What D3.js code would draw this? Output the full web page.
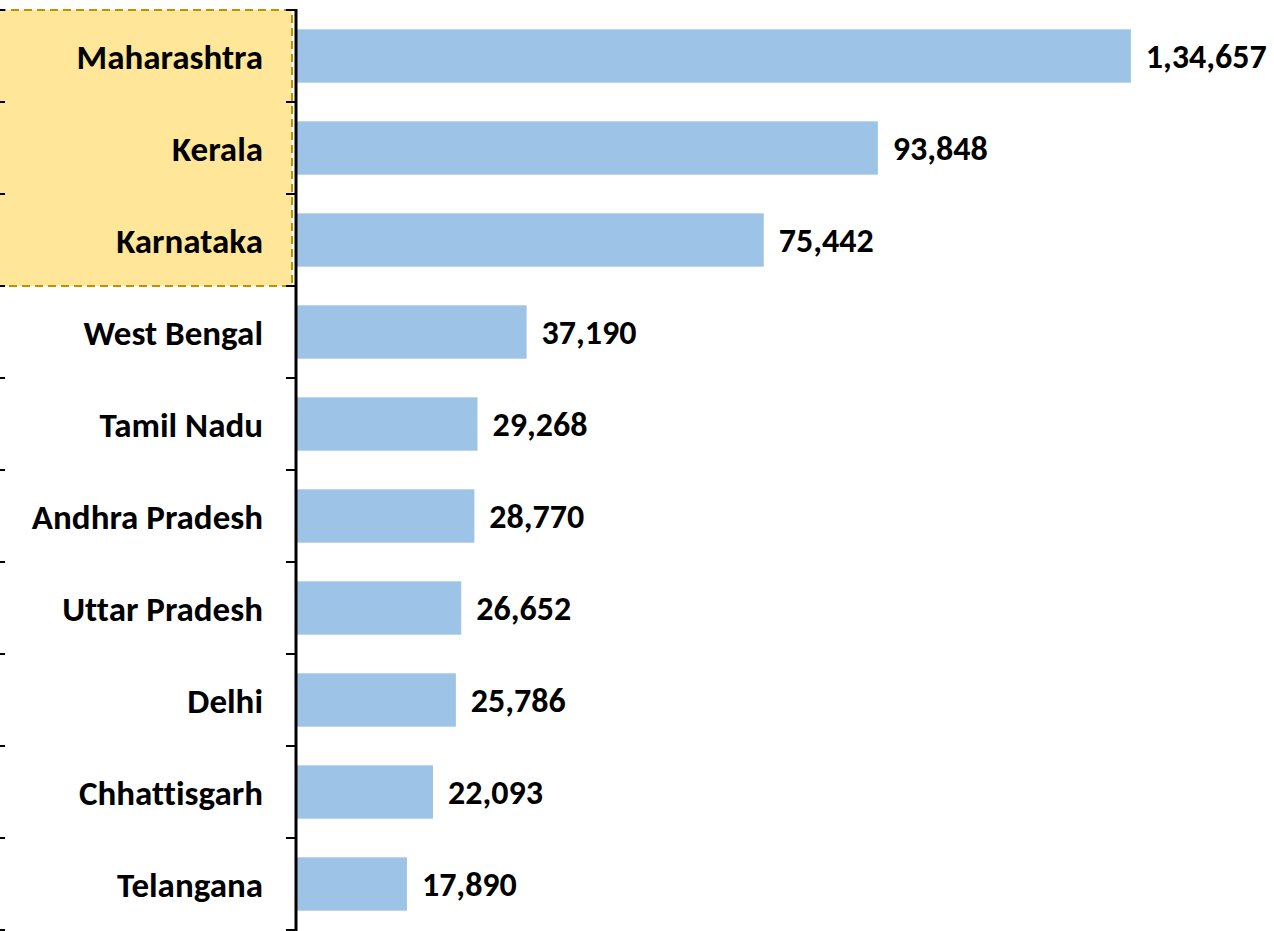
<!DOCTYPE html>
<html>
<head>
<meta charset="utf-8">
<script src="https://cdn.jsdelivr.net/npm/d3@7"></script>
<style>
  html, body { margin: 0; padding: 0; background: #fff; }
  text { font-family: Calibri, Carlito, "Open Sans", Lato, sans-serif; font-weight: 700; fill: #000; font-variant-ligatures: none; }
</style>
</head>
<body>
<div id="chart"></div>
<script>
// data
const states = ["Maharashtra", "Kerala", "Karnataka", "West Bengal", "Tamil Nadu",
  "Andhra Pradesh", "Uttar Pradesh", "Delhi", "Chhattisgarh", "Telangana"];
const cases = [134657, 93848, 75442, 37190, 29268, 28770, 26652, 25786, 22093, 17890];
const highlighted = ["Maharashtra", "Kerala", "Karnataka"];

const width = 1274, height = 931;
const axisX = 296;
const plotTop = 10, plotBottom = 930;

const svg = d3.select("#chart").append("svg")
    .attr("width", width)
    .attr("height", height);

// scales
const y = d3.scaleBand().domain(states).range([plotTop, plotBottom]).paddingInner(0.42).paddingOuter(0.21);
const x = d3.scaleLinear().domain([0, 140000]).range([axisX, axisX + 868]);
const step = y.step();

// highlight box for top three
const hi = highlighted.map(s => y(s));
const boxTop = d3.min(hi) - y.paddingOuter() * step;
const boxBottom = boxTop + highlighted.length * step;
svg.append("rect")
    .attr("x", -2)
    .attr("y", boxTop)
    .attr("width", axisX - 2)
    .attr("height", boxBottom - boxTop)
    .attr("fill", "#FFE699")
    .attr("stroke", "#BF9000")
    .attr("stroke-width", 2)
    .attr("stroke-dasharray", "8,5");

// bars
svg.selectAll(".bar")
    .data(states)
    .enter().append("rect")
    .attr("class", "bar")
    .attr("x", x(0))
    .attr("y", d => y(d))
    .attr("width", (d, i) => x(cases[i]) - x(0))
    .attr("height", y.bandwidth())
    .attr("fill", "#9DC3E6");

// axis line + band boundary ticks
const bounds = d3.range(states.length + 1).map(i => plotTop + i * step);
svg.append("line")
    .attr("x1", axisX).attr("x2", axisX)
    .attr("y1", plotTop - 1).attr("y2", height)
    .attr("stroke", "#000").attr("stroke-width", 3);
svg.selectAll(".tick-r")
    .data(bounds)
    .enter().append("line")
    .attr("x1", axisX - 10).attr("x2", axisX)
    .attr("y1", d => d).attr("y2", d => d)
    .attr("stroke", "#000").attr("stroke-width", 2);
svg.selectAll(".tick-l")
    .data(bounds)
    .enter().append("line")
    .attr("x1", 0).attr("x2", 5)
    .attr("y1", d => d).attr("y2", d => d)
    .attr("stroke", "#000").attr("stroke-width", 2);

// category labels
svg.selectAll(".label")
    .data(states)
    .enter().append("text")
    .attr("class", "label")
    .attr("x", 263)
    .attr("y", d => y(d) + y.bandwidth() / 2)
    .attr("dy", "0.36em")
    .attr("text-anchor", "end")
    .style("font-size", "35px")
    .text(d => d);

// value labels (Indian digit grouping)
const fmt = v => v.toLocaleString("en-IN");
svg.selectAll(".value")
    .data(states)
    .enter().append("text")
    .attr("class", "value")
    .attr("x", (d, i) => x(cases[i]) + 15)
    .attr("y", d => y(d) + y.bandwidth() / 2)
    .attr("dy", "0.35em")
    .style("font-size", "34px")
    .text((d, i) => fmt(cases[i]));
</script>
</body>
</html>
